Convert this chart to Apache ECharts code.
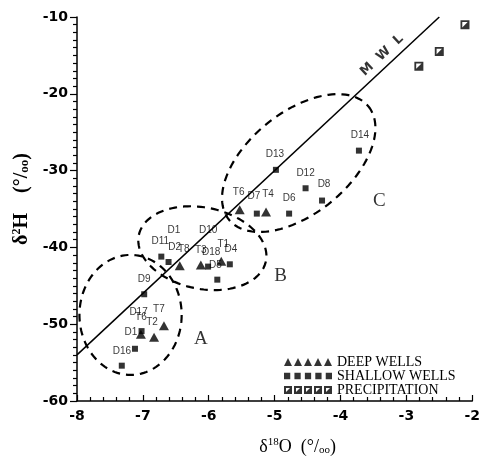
<!DOCTYPE html>
<html><head><meta charset="utf-8">
<script src="https://cdn.jsdelivr.net/npm/echarts@6/dist/echarts.min.js"></script>
<style>html,body{margin:0;padding:0;background:#fff}#c{width:483px;height:461px}</style>
</head><body><div id="c"></div>
<script>
// ---- tick labels ----
const xTicks = [-8, -7, -6, -5, -4, -3, -2];
const yTicks = [-60, -50, -40, -30, -20, -10];

// ---- deep wells (triangles) ----
const deepNames = ['T6', 'T4', 'T8', 'T3', 'T1', 'T7', 'T2', 'T6'];
const deepX = [-5.53, -5.13, -6.44, -6.12, -5.81, -6.68, -6.83, -7.03];
const deepY = [-35.1, -35.4, -42.4, -42.3, -41.8, -50.2, -51.7, -51.3];

// ---- shallow wells (squares) ----
const shallowNames = ['D14', 'D13', 'D12', 'D8', 'D6', 'D7', 'D11', 'D2', 'D18', 'D4', 'D5', 'D9', 'D17', 'D16', ''];
const shallowX = [-3.72, -4.98, -4.53, -4.28, -4.78, -5.27, -6.72, -6.61, -6.01, -5.68, -5.87, -6.98, -7.02, -7.12, -7.32];
const shallowY = [-27.4, -29.9, -32.3, -33.9, -35.6, -35.6, -41.2, -41.9, -42.5, -42.2, -44.2, -46.1, -50.9, -53.2, -55.4];

// ---- precipitation ----
const precipX = [-2.81, -2.50, -2.11];
const precipY = [-16.4, -14.5, -11.0];

// ---- meteoric water line end points ----
const mwlX = [-8, -2.5];
const mwlY = [-54, -10];

// ---- loose sample labels ----
const looseText = ['D1', 'D10', 'D1'];
const looseX = [-6.53, -6.01, -7.18];
const looseY = [-37.8, -37.8, -51.1];

// ---- group labels ----
const groupText = ['A', 'B', 'C'];
const groupX = [-6.12, -4.91, -3.41];
const groupY = [-51.9, -43.7, -34.0];

// ---- group ellipses (centre, two semi-axis vectors in data units) ----
const ellipseA = { c: [-7.187, -48.79], u: [0.776, 0], v: [0, -7.81] };
const ellipseB = { c: [-6.097, -40.10], u: [0.964, -1.725], v: [-0.130, -5.176] };
const ellipseC = { c: [-4.634, -29.02], u: [1.052, 7.443], v: [0.499, -5.013] };
const ellipses = [ellipseA, ellipseB, ellipseC];

// ---- label offsets (px) ----
const deepLabelOffset = [[-1, -18], [2, -18], [4, -17], [0, -15], [2, -17], [-5, -16], [-2, -15], [0, -17]];
const shallowLabelOffset = [[1, -15], [-1, -16], [0, -15], [2, -16], [0, -15], [-3, -17], [-1, -15], [6, -15], [3, -14], [1, -15], [-2, -14], [0, -15], [-3, -19], [-13, 2], [0, 0]];

const ptLabel = { show: true, position: 'inside', color: '#000', fontFamily: 'Liberation Sans', fontSize: 10, formatter: p => p.name };

function mk(xs, ys, names, offs) {
  return xs.map((x, i) => ({ name: names[i], value: [x, ys[i]], label: { offset: offs[i] } }));
}

const triIcon = 'path://M0 8L4 0L8 8Z M10 8L14 0L18 8Z M20 8L24 0L28 8Z M30 8L34 0L38 8Z M40 8L44 0L48 8Z';
const sqIcon = 'path://M1 1H7V7H1Z M11 1H17V7H11Z M21 1H27V7H21Z M31 1H37V7H31Z M41 1H47V7H41Z';
function precipPath(o) {
  return `M${o} 0H${o + 8}V8H${o}Z M${o + 2} 2V6H${o + 6}V2Z M${o + 6} 2L${o + 6} 6L${o + 2} 6Z`;
}
const prIcon = 'path://' + [0, 10, 20, 30, 40].map(precipPath).join(' ');
const prSymbol = 'path://M0 0H10V10H0Z M2 2V8H8V2Z M8 2L8 8L2 8Z';

const chart = echarts.init(document.getElementById('c'));
chart.setOption({
  backgroundColor: '#fff',
  animation: false,
  grid: { left: 77, top: 17, right: 3, bottom: 47 },
  legend: {
    left: 279, top: 350, orient: 'vertical', itemWidth: 48, itemHeight: 8, itemGap: 0,
    selectedMode: false,
    textStyle: { color: '#000', fontFamily: 'Liberation Serif', fontSize: 14, lineHeight: 14 },
    data: [
      { name: 'DEEP WELLS', icon: triIcon },
      { name: 'SHALLOW WELLS', icon: sqIcon },
      { name: 'PRECIPITATION', icon: prIcon }
    ]
  },
  xAxis: {
    type: 'value', min: xTicks[0], max: xTicks[xTicks.length - 1], interval: 1,
    splitLine: { show: false },
    axisLine: { onZero: false, lineStyle: { color: '#000', width: 1.5 } },
    axisTick: { inside: true, length: 6, lineStyle: { color: '#000', width: 1.2 } },
    minorTick: { show: true, splitNumber: 5, length: 4, lineStyle: { color: '#000', width: 1.2 } },
    axisLabel: { color: '#000', fontFamily: 'DejaVu Sans', fontWeight: 'bold', fontSize: 14, margin: 8 },
    name: '{a|δ}{s|18}{a|O  (°/}{b|oo}{a|)}',
    nameLocation: 'middle', nameGap: 36,
    nameTextStyle: {
      padding: [0, 0, 0, 46],
      rich: {
        a: { fontFamily: 'Liberation Serif', fontSize: 18, color: '#000' },
        s: { fontFamily: 'Liberation Serif', fontSize: 11, color: '#000', padding: [0, 0, 9, 0] },
        b: { fontFamily: 'Liberation Serif', fontSize: 11, color: '#000', padding: [6, 0, 0, 0] }
      }
    }
  },
  yAxis: {
    type: 'value', min: yTicks[0], max: yTicks[yTicks.length - 1], interval: 10,
    splitLine: { show: false },
    axisLine: { onZero: false, lineStyle: { color: '#000', width: 1.5 } },
    axisTick: { inside: false, length: 7, lineStyle: { color: '#000', width: 1.2 } },
    minorTick: { show: true, splitNumber: 10, length: 4, lineStyle: { color: '#000', width: 1.2 } },
    axisLabel: { color: '#000', fontFamily: 'DejaVu Sans', fontWeight: 'bold', fontSize: 14, margin: 9 },
    name: '{a|δ}{s|2}{a|H    (°/}{b|oo}{a|)}',
    nameLocation: 'middle', nameGap: 37,
    nameTextStyle: {
      padding: [0, 0, 0, 20],
      rich: {
        a: { fontFamily: 'Liberation Serif', fontWeight: 'bold', fontSize: 20, color: '#000' },
        s: { fontFamily: 'Liberation Serif', fontWeight: 'bold', fontSize: 12, color: '#000', padding: [0, 0, 10, 0] },
        b: { fontFamily: 'Liberation Serif', fontWeight: 'bold', fontSize: 13, color: '#000', padding: [5, 0, 0, 0] }
      }
    }
  },
  series: [
    {
      type: 'custom', name: 'groups', silent: true, clip: false, z: 1,
      data: ellipses.map(e => e.c),
      renderItem: function (params, api) {
        const e = ellipses[params.dataIndex];
        const pts = [];
        for (let i = 0; i <= 120; i++) {
          const t = i / 120 * 2 * Math.PI;
          pts.push(api.coord([
            e.c[0] + Math.cos(t) * e.u[0] + Math.sin(t) * e.v[0],
            e.c[1] + Math.cos(t) * e.u[1] + Math.sin(t) * e.v[1]
          ]));
        }
        return { type: 'polyline', shape: { points: pts }, style: { fill: null, stroke: '#000', lineWidth: 2.2, lineDash: [8, 6] } };
      }
    },
    {
      type: 'line', name: 'MWL', silent: true, symbol: 'none', z: 2,
      data: mwlX.map((x, i) => [x, mwlY[i]]),
      lineStyle: { color: '#000', width: 1.5 }
    },
    {
      type: 'scatter', name: 'DEEP WELLS', symbol: 'triangle', symbolSize: [10, 9], z: 3,
      itemStyle: { color: '#000' },
      label: ptLabel,
      data: mk(deepX, deepY, deepNames, deepLabelOffset)
    },
    {
      type: 'scatter', name: 'SHALLOW WELLS', symbol: 'rect', symbolSize: 6, z: 3,
      itemStyle: { color: '#000' },
      label: ptLabel,
      data: mk(shallowX, shallowY, shallowNames, shallowLabelOffset)
    },
    {
      type: 'scatter', name: 'PRECIPITATION', symbol: prSymbol, symbolSize: 9, z: 3,
      itemStyle: { color: '#000' },
      data: precipX.map((x, i) => [x, precipY[i]])
    },
    {
      type: 'scatter', name: 'loose', symbolSize: 0, silent: true, z: 4,
      label: ptLabel,
      data: looseX.map((x, i) => ({ name: looseText[i], value: [x, looseY[i]] }))
    },
    {
      type: 'scatter', name: 'zones', symbolSize: 0, silent: true, z: 4,
      label: { show: true, position: 'inside', color: '#000', fontFamily: 'Liberation Serif', fontSize: 19, formatter: p => p.name },
      data: groupX.map((x, i) => ({ name: groupText[i], value: [x, groupY[i]] }))
    },
    {
      type: 'scatter', name: 'mwlText', symbolSize: 0, silent: true, z: 4,
      label: { show: true, position: 'inside', rotate: 43.5, color: '#000', fontFamily: 'DejaVu Sans', fontWeight: 'bold', fontSize: 13, formatter: 'M  W  L' },
      data: [[-3.37, -15.0]]
    }
  ]
});
</script>
</body></html>
